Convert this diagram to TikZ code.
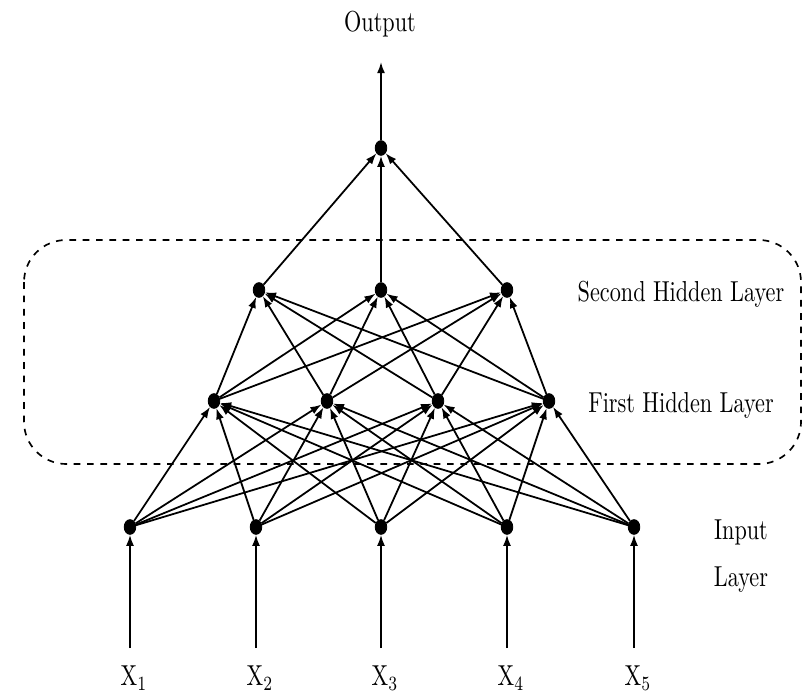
\documentclass[tikz,border=0pt]{standalone}
\usetikzlibrary{arrows.meta,shapes.geometric}
\newcommand{\tall}[1]{\scalebox{1}[1.3]{#1}}
\begin{document}
\begin{tikzpicture}[x=0.45pt,y=-0.45pt,
  neuron/.style={ellipse,fill=black,draw=black,inner sep=0pt,minimum width=5.2pt,minimum height=6.6pt},
  link/.style={line width=0.8pt,-{Latex[length=5pt,width=3.6pt]}},
  lbl/.style={font=\normalsize,inner sep=0pt}]
\useasboundingbox (0,0) rectangle (806,695);

% group frame around the hidden layers
\draw[dashed,line width=0.75pt,rounded corners=19pt] (24,240) rectangle (801,464);

% output neuron
\node[neuron] (o) at (381,148) {};
\coordinate (otip) at (381,62);
\node[lbl] (otxt) at (380,24) {\tall{Output}};

% second hidden layer
\foreach \i/\x in {1/259,2/381,3/507}
  \node[neuron] (s\i) at (\x,290) {};

% first hidden layer
\foreach \i/\x in {1/214,2/327,3/438,4/549}
  \node[neuron] (f\i) at (\x,401) {};

% input layer with its signals
\foreach \i/\x in {1/130,2/256,3/381,4/507,5/634}{
  \node[neuron] (in\i) at (\x,527) {};
  \coordinate (src\i) at (\x,648);
  \node[lbl] (x\i) at (\x+4,678) {\tall{$\mathrm{X}_{\i}$}};
}

% layer names
\node[lbl] (t2) at (681,294) {\tall{Second Hidden Layer}};
\node[lbl] (t1) at (681,405) {\tall{First Hidden Layer}};
\node[lbl] (ti) at (741,532) {\tall{Input}};
\node[lbl] (tl) at (741,580) {\tall{Layer}};

% connections
\foreach \i in {1,...,5}
  \draw[link] (src\i) -- (in\i);
\foreach \i in {1,...,5}
  \foreach \j in {1,...,4}
    \draw[link] (in\i) -- (f\j);
\foreach \j in {1,...,4}
  \foreach \k in {1,2,3}
    \draw[link] (f\j) -- (s\k);
\foreach \k in {1,2,3}
  \draw[link] (s\k) -- (o);
\draw[link] (o) -- (otip);
\end{tikzpicture}
\end{document}
